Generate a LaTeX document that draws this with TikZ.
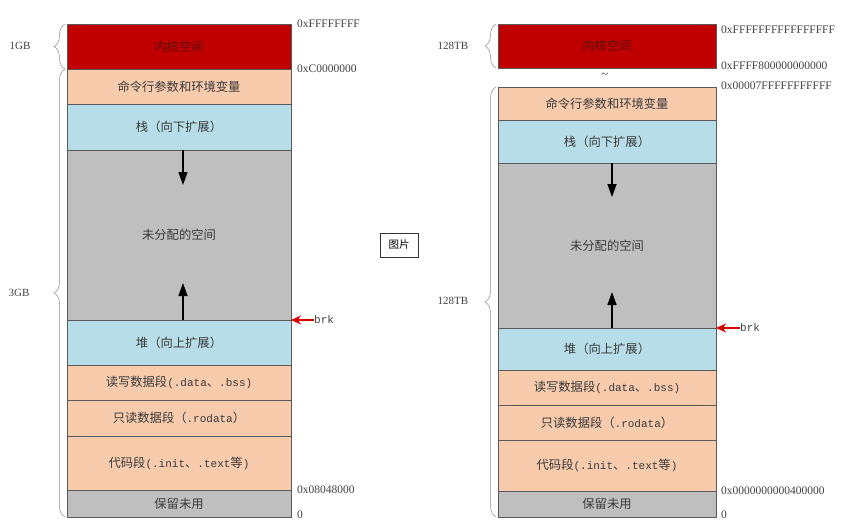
\documentclass[tikz,border=0pt]{standalone}
\usepackage{fontspec}
\setmainfont{Liberation Serif}
\newfontfamily\cjk{Noto Sans CJK SC}
\newfontfamily\mono{Liberation Mono}
\usetikzlibrary{positioning,arrows.meta,decorations.pathreplacing}
\definecolor{kernred}{HTML}{C00000}
\definecolor{kerntxt}{HTML}{5E1010}
\definecolor{peach}{HTML}{F8CBAD}
\definecolor{skyblue}{HTML}{B7DEE8}
\definecolor{freegray}{HTML}{BFBFBF}
\definecolor{edge}{HTML}{595959}
\definecolor{segtxt}{HTML}{3A3A3A}
\newcommand\asc[1]{{\mono\fontsize{11}{13}\selectfont #1}}

\begin{document}
\begin{tikzpicture}[x=1pt,y=-1pt,
  seg/.style={draw=edge, line width=0.6pt, inner sep=0pt, outer sep=0pt,
    text=segtxt, font=\cjk\fontsize{12.3}{14}\selectfont},
  segL/.style={seg, minimum width=224pt},
  segR/.style={seg, minimum width=218pt},
  addr/.style={anchor=west, inner sep=0pt, text=black!75, font=\fontsize{11.5}{13}\selectfont},
  size/.style={inner sep=0pt, text=black!75, font=\fontsize{11}{13}\selectfont},
  brc/.style={draw=black!45, line width=0.5pt, decorate, decoration={brace, amplitude=11pt}},
  growarr/.style={line width=1.4pt, -{Triangle[length=13pt,width=9pt]}},
  brkarr/.style={draw=red!85!black, line width=1.3pt, -{Stealth[length=10pt,width=9pt]}}]
\useasboundingbox (0,0) rectangle (853,522);

\node[segL, fill=kernred, text=kerntxt, minimum height=45pt] (kerL) at (179,46.5) {内核空间};
\node[segL, fill=peach, minimum height=35pt, below=0pt of kerL] (cmdL) {命令行参数和环境变量};
\node[segL, fill=skyblue, minimum height=46pt, below=0pt of cmdL] (stkL) {栈（向下扩展）};
\node[segL, fill=freegray, minimum height=170pt, below=0pt of stkL] (freeL) {未分配的空间};
\node[segL, fill=skyblue, minimum height=45pt, below=0pt of freeL] (heapL) {堆（向上扩展）};
\node[segL, fill=peach, minimum height=35pt, below=0pt of heapL] (dataL) {读写数据段\asc{(.data}、\asc{.bss)}};
\node[segL, fill=peach, minimum height=36pt, below=0pt of dataL] (roL) {只读数据段（\asc{.rodata}）};
\node[segL, fill=peach, minimum height=54pt, below=0pt of roL] (textL) {代码段\asc{(.init}、\asc{.text}等\asc{)}};
\node[segL, fill=freegray, minimum height=27pt, below=0pt of textL] (rsvL) {保留未用};

\node[segR, fill=kernred, text=kerntxt, minimum height=44pt] (kerR) at (607,46) {内核空间};
\node[segR, fill=peach, minimum height=33pt] (cmdR) at (607,103.5) {命令行参数和环境变量};
\node[segR, fill=skyblue, minimum height=43pt, below=0pt of cmdR] (stkR) {栈（向下扩展）};
\node[segR, fill=freegray, minimum height=165pt, below=0pt of stkR] (freeR) {未分配的空间};
\node[segR, fill=skyblue, minimum height=42pt, below=0pt of freeR] (heapR) {堆（向上扩展）};
\node[segR, fill=peach, minimum height=35pt, below=0pt of heapR] (dataR) {读写数据段\asc{(.data}、\asc{.bss)}};
\node[segR, fill=peach, minimum height=35pt, below=0pt of dataR] (roR) {只读数据段（\asc{.rodata}）};
\node[segR, fill=peach, minimum height=51pt, below=0pt of roR] (textR) {代码段\asc{(.init}、\asc{.text}等\asc{)}};
\node[segR, fill=freegray, minimum height=26pt, below=0pt of textR] (rsvR) {保留未用};
\node[size, font=\fontsize{13}{13}\selectfont] (gapR) at (605,76) {\textasciitilde};

\node[addr] (aL1) at ([xshift=6pt]kerL.north east) {0xFFFFFFFF};
\node[addr] (aL2) at ([xshift=6pt]kerL.south east) {0xC0000000};
\node[addr] (aL3) at ([xshift=6pt]rsvL.north east) {0x08048000};
\node[addr] (aL4) at ([xshift=6pt,yshift=2pt]rsvL.south east) {0};
\node[addr] (aR1) at ([xshift=5pt,yshift=-6pt]kerR.north east) {0xFFFFFFFFFFFFFFFF};
\node[addr] (aR2) at ([xshift=5pt,yshift=2pt]kerR.south east) {0xFFFF800000000000};
\node[addr] (aR3) at ([xshift=5pt,yshift=1pt]cmdR.north east) {0x00007FFFFFFFFFFF};
\node[addr] (aR4) at ([xshift=5pt]rsvR.north east) {0x0000000000400000};
\node[addr] (aR5) at ([xshift=5pt,yshift=2pt]rsvR.south east) {0};

\draw[brc] ([xshift=-2pt]kerL.south west) -- ([xshift=-2pt]kerL.north west);
\draw[brc] ([xshift=-2pt]rsvL.south west) -- ([xshift=-2pt]cmdL.north west);
\draw[brc] ([xshift=-2pt]kerR.south west) -- ([xshift=-2pt]kerR.north west);
\draw[brc] ([xshift=-2pt]rsvR.south west) -- ([xshift=-2pt]cmdR.north west);
\node[size] (gbL1) at (20,46) {1GB};
\node[size] (gbL2) at (19,293) {3GB};
\node[size] (tbR1) at (453,46) {128TB};
\node[size] (tbR2) at (453,301) {128TB};

\coordinate (dnL) at ([xshift=4pt,yshift=-35pt]stkL.south);
\coordinate (upL) at ([xshift=4pt,yshift=37pt]heapL.north);
\coordinate (dnR) at ([xshift=5pt,yshift=-34pt]stkR.south);
\coordinate (upR) at ([xshift=5pt,yshift=36pt]heapR.north);
\draw[growarr] ([xshift=4pt]stkL.south) -- (dnL);
\draw[growarr] ([xshift=4pt]heapL.north) -- (upL);
\draw[growarr] ([xshift=5pt]stkR.south) -- (dnR);
\draw[growarr] ([xshift=5pt]heapR.north) -- (upR);

\node[size, anchor=west, font=\mono\fontsize{11}{13}\selectfont] (brkL) at (314,320) {brk};
\node[size, anchor=west, font=\mono\fontsize{11}{13}\selectfont] (brkR) at (740,328) {brk};
\draw[brkarr] (brkL.west) -- (heapL.north east);
\draw[brkarr] (brkR.west) -- (heapR.north east);

\node[draw=black!80, line width=0.8pt, minimum width=38pt, minimum height=24pt, inner sep=0pt,
  font=\cjk\fontsize{10.5}{12}\selectfont] (pic) at (399,245) {图片};
\end{tikzpicture}
\end{document}
